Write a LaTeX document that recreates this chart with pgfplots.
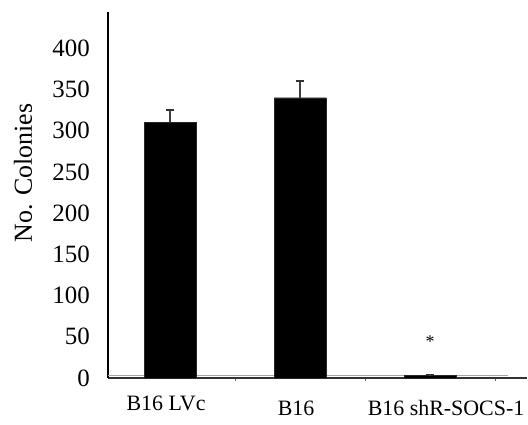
\documentclass[border=0pt]{standalone}
\usepackage{pgfplots}
\pgfplotsset{compat=1.18}
\usepackage{fontspec}
\setmainfont{Liberation Serif}
\begin{document}
\begin{tikzpicture}[x=1bp,y=1bp]
\useasboundingbox (0,0) rectangle (528,424);
\begin{axis}[
  at={(108bp,46bp)}, anchor=south west,
  scale only axis, width=419bp, height=366bp,
  xmin=-0.477, xmax=2.746, ymin=0, ymax=444,
  axis lines*=left,
  axis line style={line width=1.2bp},
  x axis line style={draw=black!80},
  ytick={0,50,...,400},
  /pgf/number format/assume math mode=true,
  yticklabel style={font=\fontsize{25}{28}\selectfont, inner sep=0pt, anchor=east, xshift=-18bp},
  xtick={0,1,2},
  xticklabels={B16 LVc\hspace*{8bp}, \raisebox{-5bp}{B16}\hspace*{8bp}, \hspace*{32bp}\raisebox{-5bp}{B16 shR-SOCS-1}},
  xticklabel style={font=\fontsize{22}{25}\selectfont, inner sep=0pt, anchor=base, yshift=-32bp},
  minor xtick={0.5,1.5,2.5},
  major tick length=0pt, minor tick length=3bp,
  tick align=outside,
  minor tick style={black!60, line width=0.8bp},
  clip=false,
]
\draw[black!35, line width=1bp] (axis cs:-0.477,2.5) -- (axis cs:2.6,2.5);
\addplot[ybar, bar width=52bp, fill=black, draw=black!85,
  error bars/.cd, y dir=plus, y explicit,
  error bar style={line width=1.3bp, color=black!75},
  error mark options={rotate=90, mark size=4bp, line width=1.5bp, color=black!80}]
  coordinates {(0,310) +- (0,15) (1,340) +- (0,20) (2,3) +- (0,1.5)};
\node[font=\fontsize{18}{20}\selectfont] at (axis cs:2,44) {*};
\end{axis}
\node[rotate=90, font=\fontsize{26}{30}\selectfont] at (23,251) {No. Colonies};
\end{tikzpicture}
\end{document}
